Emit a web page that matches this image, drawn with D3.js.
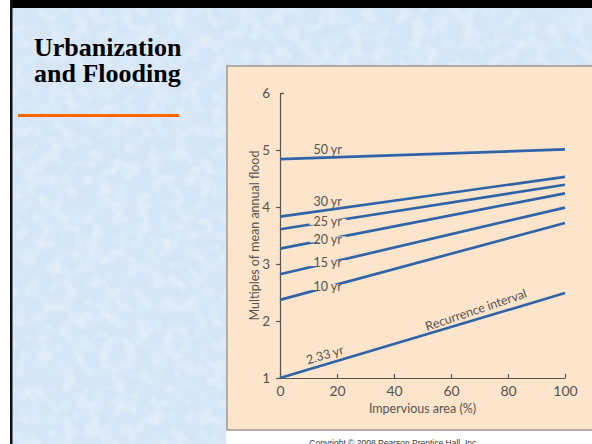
<!DOCTYPE html>
<html>
<head>
<meta charset="utf-8">
<script src="https://cdn.jsdelivr.net/npm/d3@7"></script>
<style>
  html, body { margin: 0; padding: 0; background: #ffffff; }
  svg { display: block; }
</style>
</head>
<body>
<div id="slide"></div>
<script>
// chart data
const impervious = [0, 100];
const intervals = ["50 yr", "30 yr", "25 yr", "20 yr", "15 yr", "10 yr", "2.33 yr"];
const floodAtZero = [4.84, 3.83, 3.61, 3.27, 2.82, 2.37, 1.0];
const floodAtFull = [5.01, 4.53, 4.39, 4.24, 3.99, 3.72, 2.49];
const xTicks = [0, 20, 40, 60, 80, 100];
const yTicks = [1, 2, 3, 4, 5, 6];
const titleLines = ["Urbanization", "and Flooding"];
const xTitle = "Impervious area (%)";
const yTitle = "Multiples of mean annual flood";
const curveNote = "Recurrence interval";
const credit = "Copyright \u00A9 2008 Pearson Prentice Hall, Inc.";

const W = 592, H = 444;
const panel = {x: 227, y: 66, w: 380, h: 364};
const lineBlue = "#2f64a8";
const inkGray = "#58534e";
const peach = "#fde5cc";
const chartFont = "Lato, 'Open Sans', sans-serif";

const svg = d3.select("#slide").append("svg")
    .attr("width", W)
    .attr("height", H);

// slide background
const defs = svg.append("defs");
const tex = defs.append("filter").attr("id", "paper")
    .attr("x", 0).attr("y", 0).attr("width", "100%").attr("height", "100%");
tex.append("feTurbulence")
    .attr("type", "fractalNoise")
    .attr("baseFrequency", 0.08)
    .attr("numOctaves", 2)
    .attr("seed", 3);
tex.append("feColorMatrix")
    .attr("values", "0 0 0 0 1  0 0 0 0 1  0 0 0 0 1  0 0 0 1.1 -0.45");

svg.append("rect")
    .attr("x", 12).attr("y", 0)
    .attr("width", W - 12).attr("height", H)
    .attr("fill", "#d6e6f7");
svg.append("rect")
    .attr("x", 12).attr("y", 0)
    .attr("width", W - 12).attr("height", H)
    .attr("filter", "url(#paper)")
    .attr("opacity", 0.7);

// black frame bits
svg.append("rect").attr("x", 10).attr("y", 0).attr("width", W - 10).attr("height", 8).attr("fill", "#000");
svg.append("rect").attr("x", 10).attr("y", 0).attr("width", 2.5).attr("height", H).attr("fill", "#111");

// title
svg.append("text")
    .attr("x", 34)
    .attr("y", 56)
    .style("font-family", "'Liberation Serif', 'Times New Roman', serif")
    .style("font-weight", "bold")
    .style("font-size", "26px")
    .attr("fill", "#000")
    .selectAll("tspan")
    .data(titleLines)
    .join("tspan")
    .attr("x", 34)
    .attr("dy", (d, i) => i === 0 ? 0 : 26)
    .text(d => d);

svg.append("line")
    .attr("x1", 18).attr("x2", 179)
    .attr("y1", 115.5).attr("y2", 115.5)
    .attr("stroke", "#ff6600")
    .attr("stroke-width", 3);

// white strip under the figure with the credit line
svg.append("rect")
    .attr("x", panel.x - 1).attr("y", panel.y + panel.h)
    .attr("width", W).attr("height", 20)
    .attr("fill", "#ffffff");
svg.append("text")
    .attr("x", 394)
    .attr("y", 446)
    .attr("text-anchor", "middle")
    .style("font-family", "'Liberation Sans', Arial, sans-serif")
    .style("font-size", "8.5px")
    .attr("fill", "#333")
    .text(credit);

// figure panel
svg.append("rect")
    .attr("x", panel.x).attr("y", panel.y)
    .attr("width", panel.w).attr("height", panel.h)
    .attr("fill", peach)
    .attr("stroke", "#9d978f")
    .attr("stroke-width", 1.5);

// scales
const x = d3.scaleLinear().domain([0, 100]).range([280, 565]);
const y = d3.scaleLinear().domain([1, 6]).range([378, 93]);

const plot = svg.append("g");

// y axis
const yAxis = plot.append("g")
    .attr("transform", `translate(${x(0)},0)`)
    .call(d3.axisLeft(y).tickValues(yTicks).tickFormat(d3.format("d"))
        .tickSizeInner(4).tickSizeOuter(0).tickPadding(6));
yAxis.select(".domain").attr("stroke", inkGray).attr("stroke-width", 1.2);
yAxis.selectAll(".tick line").attr("stroke", inkGray).attr("stroke-width", 1.2);
// top tick turns into the plot
yAxis.selectAll(".tick line").filter(d => d === 6).attr("x2", 4);
yAxis.selectAll(".tick text")
    .attr("fill", inkGray)
    .style("font-family", chartFont)
    .style("font-size", "13.5px");

// x axis, ticks point up into the plot
const xAxis = plot.append("g")
    .attr("transform", `translate(0,${y(1)})`)
    .call(d3.axisBottom(x).tickValues(xTicks).tickSizeInner(-4).tickSizeOuter(0).tickPadding(5));
xAxis.select(".domain").attr("stroke", inkGray).attr("stroke-width", 1.2);
xAxis.selectAll(".tick line").attr("stroke", inkGray).attr("stroke-width", 1.2);
xAxis.selectAll(".tick text")
    .attr("fill", inkGray)
    .attr("dy", "0.95em")
    .style("font-family", chartFont)
    .style("font-size", "14px");

// axis titles
plot.append("text")
    .attr("x", x(50))
    .attr("y", 413)
    .attr("text-anchor", "middle")
    .attr("fill", inkGray)
    .style("font-family", chartFont)
    .style("font-size", "12.5px")
    .text(xTitle);

plot.append("text")
    .attr("transform", `translate(259,${y(3.5)}) rotate(-90)`)
    .attr("text-anchor", "middle")
    .attr("fill", inkGray)
    .style("font-family", chartFont)
    .style("font-size", "12.5px")
    .text(yTitle);

// recurrence interval lines
const series = intervals.map((name, i) => ({
    name: name,
    values: impervious.map((p, j) => [p, j === 0 ? floodAtZero[i] : floodAtFull[i]])
}));

const line = d3.line().x(d => x(d[0])).y(d => y(d[1]));

plot.append("g")
    .selectAll("path")
    .data(series)
    .join("path")
    .attr("d", d => line(d.values))
    .attr("fill", "none")
    .attr("stroke", lineBlue)
    .attr("stroke-width", 2.7)
    .attr("stroke-linecap", "butt");

// labels: all sit near 16.7% on their line
const labelAt = 16.7;
const valueAt = (s, p) => s.values[0][1] + (s.values[1][1] - s.values[0][1]) * p / 100;
const angleOf = s => Math.atan2(y(s.values[1][1]) - y(s.values[0][1]), x(100) - x(0)) * 180 / Math.PI;

const labels = plot.append("g")
    .style("font-family", chartFont)
    .style("font-size", "12.5px")
    .attr("fill", inkGray);

series.forEach((s, i) => {
    const px = x(labelAt);
    const py = y(valueAt(s, labelAt));
    if (i < 2) {
        // sits above its line
        labels.append("text")
            .attr("x", px).attr("y", py - 4)
            .attr("text-anchor", "middle")
            .text(s.name);
    } else if (i === series.length - 1) {
        labels.append("text")
            .attr("transform", `translate(${px},${py}) rotate(${angleOf(s)})`)
            .attr("y", -5)
            .attr("text-anchor", "middle")
            .text(s.name);
        const rx = x(69.8), ry = y(valueAt(s, 69.8));
        labels.append("text")
            .attr("transform", `translate(${rx},${ry}) rotate(${angleOf(s) - 2})`)
            .attr("y", -5)
            .attr("text-anchor", "middle")
            .text(curveNote);
    } else {
        // breaks its line
        const g = labels.append("g");
        const t = g.append("text")
            .attr("x", px).attr("y", py)
            .attr("dy", "0.33em")
            .attr("text-anchor", "middle")
            .text(s.name);
        const b = t.node().getBBox();
        g.insert("rect", "text")
            .attr("x", b.x - 4).attr("y", py - 3)
            .attr("width", b.width + 8).attr("height", 6)
            .attr("fill", peach);
    }
});
</script>
</body>
</html>
